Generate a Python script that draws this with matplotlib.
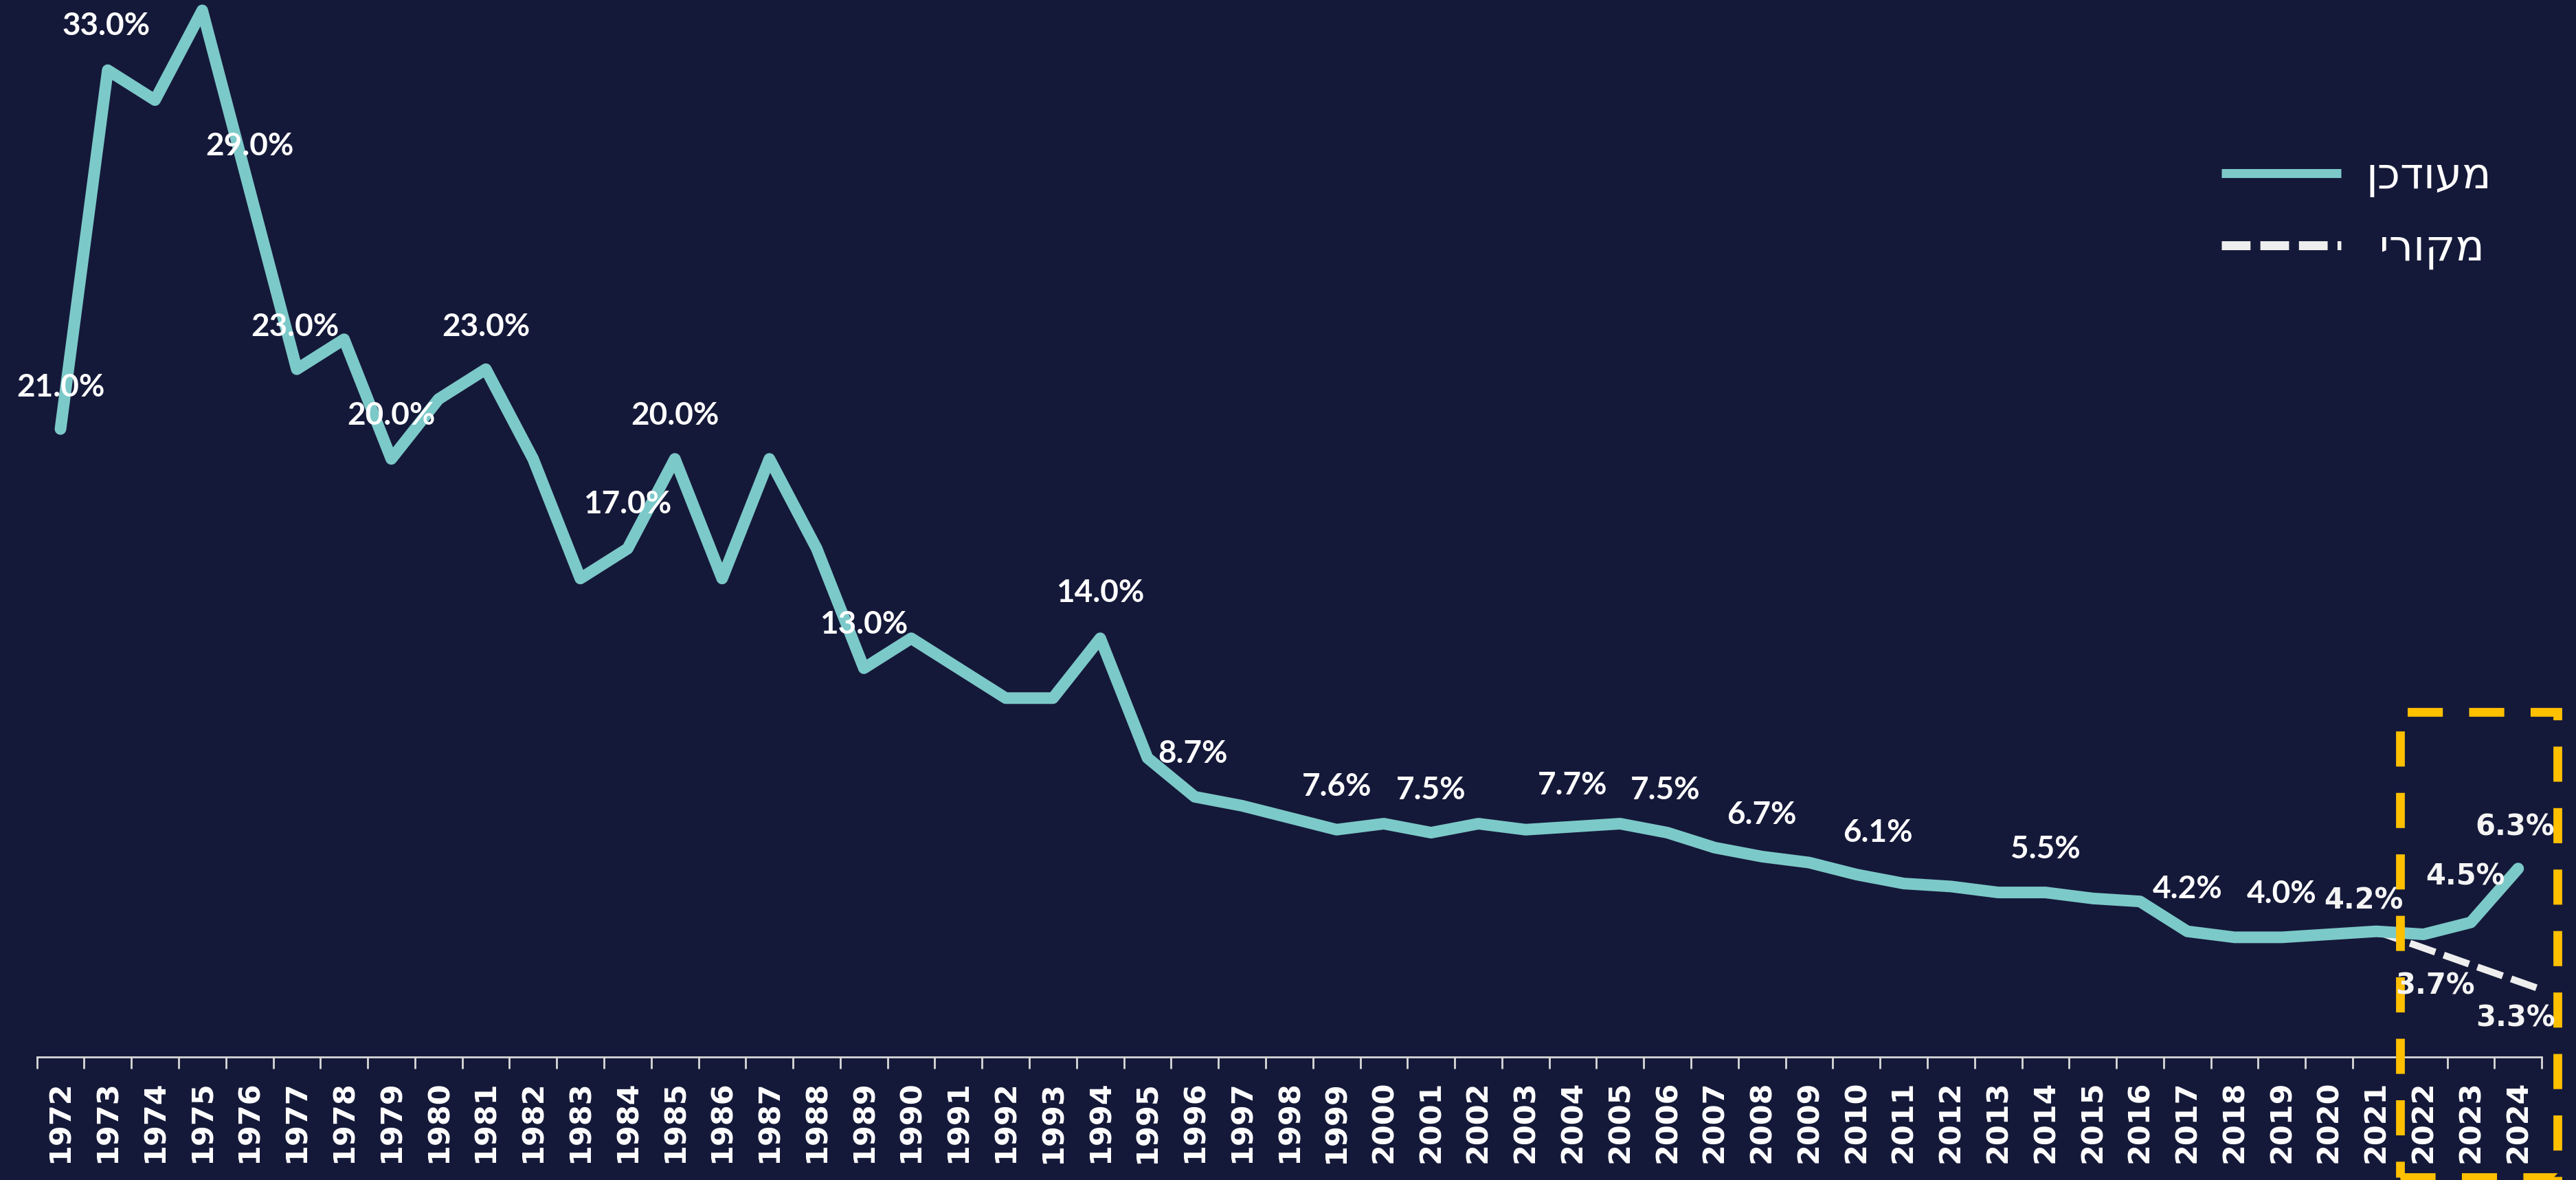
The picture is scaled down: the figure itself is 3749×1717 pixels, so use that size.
import matplotlib
matplotlib.use("Agg")
import matplotlib.pyplot as plt
import numpy as np
from matplotlib.lines import Line2D
from matplotlib.patches import Rectangle

# --- data ---
years = list(range(1972, 2025))
updated = [21.0, 33.0, 32.0, 35.0, 29.0, 23.0, 24.0, 20.0, 22.0, 23.0,
           20.0, 16.0, 17.0, 20.0, 16.0, 20.0, 17.0, 13.0, 14.0, 13.0,
           12.0, 12.0, 14.0, 10.0, 8.7, 8.4, 8.0, 7.6, 7.8, 7.5,
           7.8, 7.6, 7.7, 7.8, 7.5, 7.0, 6.7, 6.5, 6.1, 5.8,
           5.7, 5.5, 5.5, 5.3, 5.2, 4.2, 4.0, 4.0, 4.1, 4.2,
           4.1, 4.5, 6.3]

# original forecast (dashed), runs to the right edge of the axis
orig_x = [2021, 2024.5]
orig_vals = [4.2, 2.25]

# data labels: text and where they sit (year, value)
label_text = ["21.0%", "33.0%", "29.0%", "23.0%", "20.0%", "23.0%", "17.0%",
              "20.0%", "13.0%", "14.0%", "8.7%", "7.6%", "7.5%", "7.7%",
              "7.5%", "6.7%", "6.1%", "5.5%", "4.2%", "4.0%",
              "4.2%", "4.5%", "6.3%", "3.7%", "3.3%"]
label_x = [1972.0, 1972.97, 1976.0, 1976.97, 1979.0, 1981.0, 1984.0,
           1985.0, 1989.0, 1994.0, 1995.96, 1999.0, 2001.0, 2004.0,
           2005.96, 2008.0, 2010.45, 2014.0, 2017.0, 2019.0,
           2020.73, 2022.88, 2023.93, 2022.25, 2023.95]
label_y = [22.39, 34.48, 30.46, 24.41, 21.45, 24.41, 18.48,
           21.45, 14.46, 15.52, 10.14, 9.03, 8.92, 9.08,
           8.92, 8.09, 7.49, 6.94, 5.61, 5.45,
           5.22, 6.02, 7.68, 2.37, 1.29]

legend_labels = ["מעודכן", "מקורי"]

# highlighted period (orange box)
box_x = (2021.5, 2024.83)
box_y = (-4.02, 11.54)

# --- style ---
BG = "#151939"
TEAL = "#7CC9C9"
WHITE = "#EEEEEE"
GOLD = "#FFC000"
AXIS = "#D9D9D9"

fig = plt.figure(figsize=(18.745, 8.585), dpi=200, facecolor=BG)
ax = fig.add_axes([0.0143, 0.1043, 0.9724, 0.8869])
ax.set_facecolor(BG)

ax.plot(orig_x, orig_vals, color=WHITE, lw=3.6, dashes=(3.9, 1.3),
        dash_capstyle="butt", zorder=2)
ax.plot(years, updated, color=TEAL, lw=6.1, solid_joinstyle="round",
        solid_capstyle="round", clip_on=False, zorder=3)

for i, (t, x, y) in enumerate(zip(label_text, label_x, label_y)):
    if i >= 20:
        ax.text(x, y, t, ha="center", va="center", color="#F4F4F4",
                fontsize=15, fontweight="bold", family="DejaVu Sans", zorder=5)
    else:
        ax.text(x, y, t, ha="center", va="center", color="white",
                fontsize=16.5, fontweight="bold", family="Lato", zorder=5)

box = Rectangle((box_x[0], box_y[0]), box_x[1] - box_x[0], box_y[1] - box_y[0],
                fill=False, edgecolor=GOLD, lw=4.6, linestyle=(0, (4, 3)),
                clip_on=False, zorder=4)
ax.add_patch(box)

# --- axes ---
ax.set_xlim(1971.5, 2024.5)
ax.set_ylim(0, 35)
for side in ["left", "right", "top"]:
    ax.spines[side].set_visible(False)
ax.spines["bottom"].set_color(AXIS)
ax.spines["bottom"].set_linewidth(1.0)
ax.set_yticks([])

ax.set_xticks(np.arange(1971.5, 2025, 1.0))
ax.set_xticks(years, minor=True)
ax.set_xticklabels(years, minor=True, rotation=90)
ax.tick_params(axis="x", which="major", length=6, width=1, color=AXIS,
               direction="out", labelbottom=False)
ax.tick_params(axis="x", which="minor", length=0, pad=12.5,
               labelcolor="white", labelsize=15.5)
for lab in ax.get_xticklabels(minor=True):
    lab.set_fontweight("bold")
    lab.set_family("DejaVu Sans")

# --- legend (Hebrew reversed for left-to-right rendering) ---
handles = [Line2D([], [], color=TEAL, lw=4.7, solid_capstyle="butt"),
           Line2D([], [], color=WHITE, lw=4.7, dashes=(3.2, 1.1),
                  dash_capstyle="butt")]
texts = [legend_labels[0][::-1], " " + legend_labels[1][::-1]]
leg = fig.legend(handles, texts, loc="upper left",
                 bbox_to_anchor=(0.8624, 0.868), frameon=False,
                 fontsize=22.5, handlelength=2.78, handletextpad=0.58,
                 labelspacing=0.72, borderpad=0, borderaxespad=0)
for t in leg.get_texts():
    t.set_color("white")
    t.set_family(["DejaVu Sans", "Liberation Sans", "Noto Sans"])

fig.savefig("out.png", dpi=200, facecolor=BG)
